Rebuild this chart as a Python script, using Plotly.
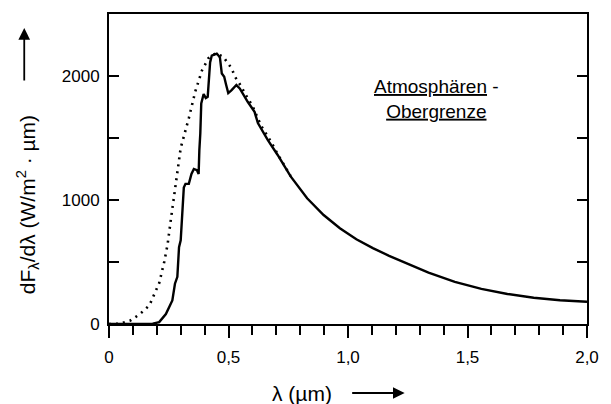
import plotly.graph_objects as go

# Solar spectrum at top of atmosphere (solid)
lam_solar = [0.00, 0.10, 0.183, 0.21, 0.238, 0.265, 0.276, 0.286, 0.293, 0.300, 0.306,
             0.313, 0.320, 0.334, 0.345, 0.355, 0.368, 0.375, 0.378, 0.382, 0.386, 0.396,
             0.405, 0.413, 0.423, 0.430, 0.440, 0.451, 0.458, 0.464, 0.472, 0.482, 0.490,
             0.499, 0.513, 0.533, 0.547, 0.565, 0.581, 0.609, 0.623, 0.664, 0.705, 0.76,
             0.829, 0.898, 0.966, 1.035, 1.104, 1.172, 1.241, 1.337, 1.447, 1.558, 1.667,
             1.777, 1.887, 2.0]
flux_solar = [0, 0, 3, 15, 80, 190, 325, 380, 620, 675, 915,
              1100, 1130, 1130, 1210, 1250, 1240, 1210, 1400, 1536, 1779, 1855,
              1822, 1832, 2110, 2165, 2172, 2180, 2165, 2150, 2020, 1994, 1930,
              1862, 1886, 1927, 1900, 1840, 1790, 1711, 1620, 1485, 1365, 1190,
              1014, 879, 772, 683, 612, 550, 492, 415, 340, 283, 242,
              212, 192, 180]

# Black body comparison curve (dotted)
lam_bb = [0.0, 0.045, 0.087, 0.128, 0.169, 0.197, 0.21, 0.231, 0.245, 0.258, 0.272, 0.286,
          0.300, 0.334, 0.361, 0.389, 0.416, 0.447, 0.478, 0.492, 0.513, 0.527, 0.554,
          0.568, 0.60, 0.636, 0.678, 0.705, 0.76]
flux_bb = [0, 2, 25, 78, 150, 270, 330, 500, 640, 830, 1030, 1265,
           1420, 1660, 1875, 2045, 2143, 2183, 2156, 2117, 2062, 1994, 1914,
           1860, 1760, 1600, 1470, 1372, 1192]

x_tickvals = [0, 0.5, 1.0, 1.5, 2.0]
x_ticktext = ["0", "0,5", "1,0", "1,5", "2,0"]
y_tickvals = [0, 500, 1000, 1500, 2000, 2500]
y_ticktext = ["0", "", "1000", "", "2000", ""]

FONT = "Liberation Sans, Arial, sans-serif"

fig = go.Figure()
fig.add_trace(go.Scatter(x=lam_bb, y=flux_bb, mode="lines",
                         line=dict(color="black", width=2.6, dash="2px,5px"),
                         hoverinfo="skip", showlegend=False))
fig.add_trace(go.Scatter(x=lam_solar, y=flux_solar, mode="lines",
                         line=dict(color="black", width=2.4),
                         hoverinfo="skip", showlegend=False))

fig.update_layout(
    width=611, height=404,
    margin=dict(l=109, r=17, t=14, b=80),
    paper_bgcolor="white", plot_bgcolor="white",
    font=dict(family=FONT, color="black", size=17),
    xaxis=dict(range=[0, 2.0], tickvals=x_tickvals, ticktext=x_ticktext,
               ticks="outside", ticklen=12, tickwidth=1.6, tickcolor="black",
               minor=dict(dtick=0.1, ticks="outside", ticklen=9, tickwidth=1.6, tickcolor="black"),
               showline=True, linecolor="black", linewidth=2, mirror=True,
               showgrid=False, zeroline=False, ticklabelstandoff=5,
               tickfont=dict(size=17)),
    yaxis=dict(range=[0, 2500], tickvals=y_tickvals, ticktext=y_ticktext,
               ticks="inside", ticklen=10, tickwidth=1.6, tickcolor="black",
               showline=True, linecolor="black", linewidth=2, mirror="allticks",
               showgrid=False, zeroline=False, ticklabelstandoff=4,
               tickfont=dict(size=17)),
)

# y axis title
fig.add_annotation(xref="paper", yref="paper", x=(26 - 109) / 485, y=(324 - 205) / 310,
                   text="dF<sub>λ</sub>/dλ (W/m<sup>2</sup> · µm)", textangle=-90,
                   showarrow=False, xanchor="center", yanchor="middle",
                   font=dict(size=21, family=FONT))
fig.add_annotation(xref="paper", yref="paper", x=(23 - 109) / 485, y=(324 - 28) / 310,
                   ax=0, ay=54, axref="pixel", ayref="pixel", text="",
                   showarrow=True, arrowhead=2, arrowsize=1.3, arrowwidth=1.8,
                   arrowcolor="black")
# x axis title
fig.add_annotation(xref="paper", yref="paper", x=(305 - 109) / 485, y=(324 - 393) / 310,
                   text="λ (µm)", showarrow=False, xanchor="center", yanchor="middle",
                   font=dict(size=21, family=FONT))
fig.add_annotation(xref="paper", yref="paper", x=(409 - 109) / 485, y=(324 - 393) / 310,
                   ax=-54, ay=0, axref="pixel", ayref="pixel", text="",
                   showarrow=True, arrowhead=2, arrowsize=1.3, arrowwidth=1.8,
                   arrowcolor="black")
# label
fig.add_annotation(xref="paper", yref="paper", x=(441 - 109) / 485, y=(324 - 99) / 310,
                   text="<u>Atmosphären</u> -<br><u>Obergrenze</u>", showarrow=False,
                   xanchor="center", yanchor="middle", align="center",
                   font=dict(size=19, family=FONT))

fig.write_html("out.html")
